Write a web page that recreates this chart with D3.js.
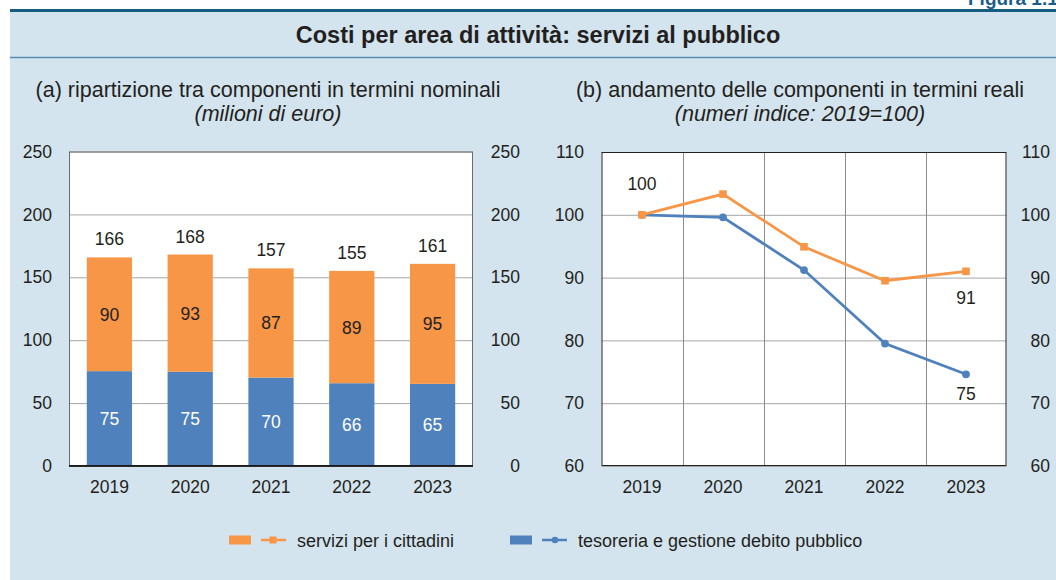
<!DOCTYPE html>
<html>
<head>
<meta charset="utf-8">
<script src="https://cdn.jsdelivr.net/npm/d3@7"></script>
<style>
body { margin: 0; background: #fff; }
svg { display: block; font-family: "Liberation Sans", Arial, sans-serif; }
</style>
</head>
<body>
<div id="chart"></div>
<script>
// dati
let years = ['2019', '2020', '2021', '2022', '2023']
let tesoreria = [75.4, 74.9, 70.3, 65.8, 65.3]     // milioni di euro
let servizi = [90.4, 93.2, 86.8, 89.3, 95.4]
let tesoreriaIdx = [100, 99.6, 91.2, 79.5, 74.6]    // 2019=100
let serviziIdx = [100, 103.3, 94.9, 89.5, 91.0]
let ticksA = [0, 50, 100, 150, 200, 250]
let ticksB = [60, 70, 80, 90, 100, 110]
let seriesNames = ['servizi per i cittadini', 'tesoreria e gestione debito pubblico']

let orange = '#f79646'
let blue = '#4f81bd'
let textCol = '#231f20'
let fs = '17.5px'

let svg = d3.select('#chart').append('svg')
    .attr('width', 1056)
    .attr('height', 580)

// sfondo pannello
svg.append('rect')
    .attr('x', 10).attr('y', 10)
    .attr('width', 1060).attr('height', 580)
    .style('fill', '#d3e4ee')
svg.append('line')
    .attr('x1', 10).attr('x2', 1056).attr('y1', 10.5).attr('y2', 10.5)
    .style('stroke', '#175d82').style('stroke-width', 3)
svg.append('line')
    .attr('x1', 10).attr('x2', 1056).attr('y1', 57.5).attr('y2', 57.5)
    .style('stroke', '#5a8db3').style('stroke-width', 1.5)

svg.append('text')
    .attr('x', 968).attr('y', 5)
    .style('font-size', '19px').style('font-weight', 'bold')
    .style('fill', '#1b5c8a')
    .text('Figura 1.1')

svg.append('text')
    .attr('x', 538).attr('y', 43)
    .attr('text-anchor', 'middle')
    .style('font-size', '23.5px').style('font-weight', 'bold')
    .style('fill', textCol)
    .text('Costi per area di attività: servizi al pubblico')

// sottotitoli
let subs = [
    {x: 268, t1: '(a) ripartizione tra componenti in termini nominali', t2: '(milioni di euro)'},
    {x: 800, t1: '(b) andamento delle componenti in termini reali', t2: '(numeri indice: 2019=100)'}
]
subs.forEach(s => {
    svg.append('text').attr('x', s.x).attr('y', 97)
        .attr('text-anchor', 'middle')
        .style('font-size', '21.5px').style('fill', textCol)
        .text(s.t1)
    svg.append('text').attr('x', s.x).attr('y', 121)
        .attr('text-anchor', 'middle')
        .style('font-size', '21.5px').style('font-style', 'italic').style('fill', textCol)
        .text(s.t2)
})

function styleAxis(g) {
    g.select('.domain').remove()
    g.selectAll('text')
        .style('font-size', fs)
        .style('font-family', '"Liberation Sans", Arial, sans-serif')
        .style('fill', textCol)
}

// ===== pannello (a) =====
let xA = d3.scaleBand().domain(years).range([69, 473]).paddingInner(0.44).paddingOuter(0.22)
let yA = d3.scaleLinear().domain([0, 250]).range([466, 151.5])

svg.append('rect')
    .attr('x', 69).attr('y', yA(250))
    .attr('width', 404).attr('height', yA(0) - yA(250))
    .style('fill', '#fff')

svg.append('g')
    .attr('transform', 'translate(69,0)')
    .call(d3.axisLeft(yA).tickValues(ticksA).tickSize(-404).tickFormat(''))
    .call(g => g.select('.domain').remove())
    .selectAll('line').style('stroke', '#a6a6a6')

let barsA = svg.append('g')
barsA.selectAll('.blu').data(tesoreria).enter().append('rect')
    .attr('x', (d, i) => xA(years[i]))
    .attr('y', d => yA(d))
    .attr('width', xA.bandwidth())
    .attr('height', d => yA(0) - yA(d))
    .style('fill', blue)
barsA.selectAll('.ora').data(servizi).enter().append('rect')
    .attr('x', (d, i) => xA(years[i]))
    .attr('y', (d, i) => yA(d + tesoreria[i]))
    .attr('width', xA.bandwidth())
    .attr('height', d => yA(0) - yA(d))
    .style('fill', orange)

// etichette barre
barsA.selectAll('.lb').data(tesoreria).enter().append('text')
    .attr('x', (d, i) => xA(years[i]) + xA.bandwidth() / 2)
    .attr('y', d => yA(d / 2) + 6.5)
    .attr('text-anchor', 'middle')
    .style('font-size', fs).style('fill', '#fff')
    .text(d => Math.round(d))
barsA.selectAll('.lo').data(servizi).enter().append('text')
    .attr('x', (d, i) => xA(years[i]) + xA.bandwidth() / 2)
    .attr('y', (d, i) => yA(tesoreria[i] + d / 2) + 6.5)
    .attr('text-anchor', 'middle')
    .style('font-size', fs).style('fill', textCol)
    .text(d => Math.round(d))
barsA.selectAll('.lt').data(servizi).enter().append('text')
    .attr('x', (d, i) => xA(years[i]) + xA.bandwidth() / 2)
    .attr('y', (d, i) => yA(tesoreria[i] + d) - 12)
    .attr('text-anchor', 'middle')
    .style('font-size', fs).style('fill', textCol)
    .text((d, i) => Math.round(d + tesoreria[i]))

svg.append('rect')
    .attr('x', 69.5).attr('y', yA(250) + 0.5)
    .attr('width', 403).attr('height', yA(0) - yA(250) - 1)
    .style('fill', 'none').style('stroke', '#6b6b6b')
svg.append('line')
    .attr('x1', 69).attr('x2', 473).attr('y1', yA(0)).attr('y2', yA(0))
    .style('stroke', '#000').style('stroke-width', 1.5)

svg.append('g').attr('transform', 'translate(52,0)')
    .call(d3.axisLeft(yA).tickValues(ticksA).tickSize(0).tickPadding(0))
    .call(styleAxis)
svg.append('g').attr('transform', 'translate(520,0)')
    .call(d3.axisLeft(yA).tickValues(ticksA).tickSize(0).tickPadding(0))
    .call(styleAxis)
svg.append('g').attr('transform', 'translate(0,' + yA(0) + ')')
    .call(d3.axisBottom(xA).tickSize(0).tickPadding(15))
    .call(styleAxis)

// ===== pannello (b) =====
let xB = d3.scaleBand().domain(years).range([601.5, 1006.5])
let yB = d3.scaleLinear().domain([60, 110]).range([466, 152])
let cx = d => xB(d) + xB.bandwidth() / 2

svg.append('rect')
    .attr('x', 601.5).attr('y', yB(110))
    .attr('width', 405).attr('height', yB(60) - yB(110))
    .style('fill', '#fff')

svg.append('g')
    .attr('transform', 'translate(601.5,0)')
    .call(d3.axisLeft(yB).tickValues(ticksB).tickSize(-405).tickFormat(''))
    .call(g => g.select('.domain').remove())
    .selectAll('line').style('stroke', '#a6a6a6')

svg.append('g').selectAll('line').data(years.slice(1)).enter().append('line')
    .attr('x1', d => Math.round(xB(d)) + 0.5).attr('x2', d => Math.round(xB(d)) + 0.5)
    .attr('y1', yB(110)).attr('y2', yB(60))
    .style('stroke', '#8c8c8c')

svg.append('rect')
    .attr('x', 602).attr('y', yB(110) + 0.5)
    .attr('width', 404).attr('height', yB(60) - yB(110) - 1)
    .style('fill', 'none').style('stroke', '#222')

let line = d3.line().x((d, i) => cx(years[i])).y(d => yB(d))

svg.append('path').datum(tesoreriaIdx)
    .attr('d', line)
    .style('fill', 'none').style('stroke', blue).style('stroke-width', 2.75)
svg.append('g').selectAll('circle').data(tesoreriaIdx).enter().append('circle')
    .attr('cx', (d, i) => cx(years[i])).attr('cy', d => yB(d))
    .attr('r', 3.9).style('fill', blue)

svg.append('path').datum(serviziIdx)
    .attr('d', line)
    .style('fill', 'none').style('stroke', orange).style('stroke-width', 2.75)
svg.append('g').selectAll('rect').data(serviziIdx).enter().append('rect')
    .attr('x', (d, i) => cx(years[i]) - 3.8).attr('y', d => yB(d) - 3.8)
    .attr('width', 7.6).attr('height', 7.6)
    .style('fill', orange)

// etichette linee
svg.append('text').attr('x', cx('2019')).attr('y', yB(serviziIdx[0]) - 25)
    .attr('text-anchor', 'middle').style('font-size', fs).style('fill', textCol)
    .text(Math.round(serviziIdx[0]))
svg.append('text').attr('x', cx('2023')).attr('y', yB(serviziIdx[4]) + 33)
    .attr('text-anchor', 'middle').style('font-size', fs).style('fill', textCol)
    .text(Math.round(serviziIdx[4]))
svg.append('text').attr('x', cx('2023')).attr('y', yB(tesoreriaIdx[4]) + 26)
    .attr('text-anchor', 'middle').style('font-size', fs).style('fill', textCol)
    .text(Math.round(tesoreriaIdx[4]))

svg.append('g').attr('transform', 'translate(584,0)')
    .call(d3.axisLeft(yB).tickValues(ticksB).tickSize(0).tickPadding(0))
    .call(styleAxis)
svg.append('g').attr('transform', 'translate(1050,0)')
    .call(d3.axisLeft(yB).tickValues(ticksB).tickSize(0).tickPadding(0))
    .call(styleAxis)
svg.append('g').attr('transform', 'translate(0,' + yB(60) + ')')
    .call(d3.axisBottom(xB).tickSize(0).tickPadding(15))
    .call(styleAxis)

// legenda
let legX = [229, 510]
let legCol = [orange, blue]
let leg = svg.append('g').selectAll('g').data(seriesNames).enter().append('g')
    .attr('transform', (d, i) => 'translate(' + legX[i] + ',540)')
leg.append('rect').attr('x', 0).attr('y', -4.5).attr('width', 22).attr('height', 9)
    .style('fill', (d, i) => legCol[i])
leg.append('line').attr('x1', 32).attr('x2', 57).attr('y1', 0).attr('y2', 0)
    .style('stroke', (d, i) => legCol[i]).style('stroke-width', 2.5)
leg.filter((d, i) => i == 0).append('rect')
    .attr('x', 40.5).attr('y', -3.5).attr('width', 7).attr('height', 7).style('fill', orange)
leg.filter((d, i) => i == 1).append('circle')
    .attr('cx', 45).attr('cy', 0).attr('r', 3.3).style('fill', blue)
leg.append('text').attr('x', 68).attr('y', 7)
    .style('font-size', '18px').style('fill', textCol)
    .text(d => d)
</script>
</body>
</html>
